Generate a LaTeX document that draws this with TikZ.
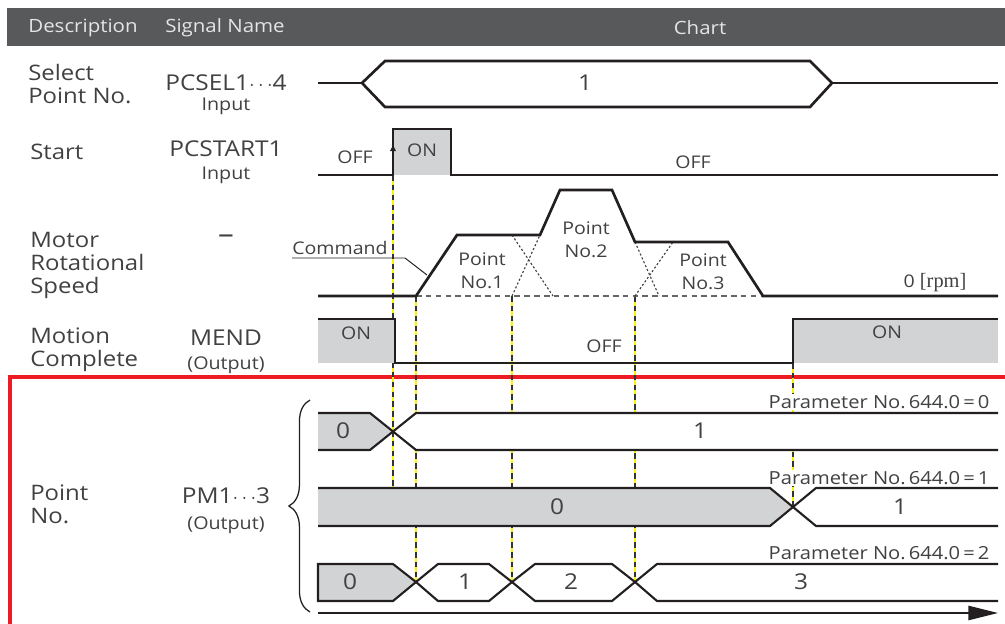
\documentclass[tikz,border=0pt]{standalone}
\usepackage{fontspec}
\setmainfont[FakeStretch=1.12]{Open Sans}
\newfontfamily\rpmfont{Liberation Serif}
\usetikzlibrary{arrows.meta, decorations.pathreplacing}

\definecolor{hdrgray}{RGB}{88,89,91}
\definecolor{ongray}{RGB}{209,211,212}
\definecolor{inkgray}{RGB}{35,31,32}
\definecolor{txtgray}{RGB}{65,64,66}
\definecolor{markred}{RGB}{237,28,36}
\definecolor{markyellow}{RGB}{255,242,0}

\begin{document}
\begin{tikzpicture}[
    x=0.025cm,
    y=-0.025cm,
    hdrtext/.style={
        text=white!90!black,
        inner sep=0pt,
        font=\fontsize{13}{15}\selectfont
    },
    rowlbl/.style={
        anchor=west,
        align=left,
        text=txtgray,
        inner sep=0pt,
        font=\fontsize{15.2}{16.4}\selectfont
    },
    signame/.style={
        text=txtgray,
        inner sep=0pt,
        font=\fontsize{15.5}{17}\selectfont
    },
    iolbl/.style={
        text=txtgray,
        inner sep=0pt,
        font=\fontsize{12.5}{14}\selectfont
    },
    chartlbl/.style={
        text=txtgray,
        align=center,
        inner sep=0pt,
        font=\fontsize{12.4}{16.4}\selectfont
    },
    buslbl/.style={
        text=txtgray,
        inner sep=0pt,
        font=\fontsize{15.5}{17}\selectfont
    },
    paramlbl/.style={
        anchor=east,
        text=txtgray,
        fill=white,
        inner sep=1pt,
        font=\fontsize{12.8}{15}\selectfont
    },
    sigline/.style={
        line width=1.9pt,
        inkgray
    },
    busline/.style={
        line width=1.5pt,
        inkgray
    },
    guide/.style={
        line width=1.1pt,
        markyellow
    },
    guidedash/.style={
        line width=1.1pt,
        black!80,
        dash pattern=on 4pt off 3pt
    },
    profdash/.style={
        line width=0.9pt,
        black!60,
        dash pattern=on 4pt off 3pt
    },
    profdot/.style={
        line width=0.8pt,
        black!75,
        dash pattern=on 1.5pt off 1.5pt
    }
]

    \useasboundingbox (0,0) rectangle (1005,624);

    % Header bar
    \fill[hdrgray] (7,8) rectangle (1005,46);
    \node[hdrtext] (hdrdesc) at (83,28) {Description};
    \node[hdrtext] (hdrsig) at (225,28) {Signal Name};
    \node[hdrtext] (hdrchart) at (700,28) {Chart};

    % Row descriptions
    \node[rowlbl] (lblsel) at (28,84) {Select\\Point No.};
    \node[rowlbl] (lblstart) at (30,152) {Start};
    \node[rowlbl] (lblspeed) at (30,265) {Motor\\Rotational\\Speed};
    \node[rowlbl] (lblmend) at (30,350) {Motion\\Complete};
    \node[rowlbl] (lblpoint) at (30,504) {Point\\No.};

    % Signal names
    \node[signame] (sigsel) at (226,83) {PCSEL1$\cdots$4};
    \node[iolbl] (sigselio) at (226,106) {Input};
    \node[signame] (sigstart) at (226,149) {PCSTART1};
    \node[iolbl] (sigstartio) at (226,175) {Input};
    \node[signame] (sigspeed) at (226,239) {{\fontsize{20}{20}\selectfont –}};
    \node[signame] (sigmend) at (226,338) {MEND};
    \node[iolbl] (sigmendio) at (226,365) {(Output)};
    \node[signame] (sigpm) at (226,496) {PM1$\cdots$3};
    \node[iolbl] (sigpmio) at (226,525) {(Output)};

    % Red frame round the point outputs
    \draw[markred, line width=2.2pt] (10,640) -- (10,377) -- (1020,377);

    % Timing guides
    \foreach \gx/\gtop/\gbot in {393/175/488, 416/296/582, 512/296/582, 635/296/582, 793/363/507} {
        \draw[guide] (\gx,\gtop) -- (\gx,\gbot);
        \draw[guidedash] (\gx,\gtop) -- (\gx,\gbot);
    }

    % Select point no.
    \filldraw[sigline, fill=white] (362,83) -- (385,61) -- (810,61) -- (832,83) -- (810,107) -- (385,107) -- cycle;
    \draw[sigline] (318,83) -- (362,83) (832,83) -- (998,83);
    \node[buslbl] (selval) at (585,83) {1};

    % Start
    \fill[ongray] (393,129) rectangle (451,175);
    \draw[sigline] (318,175) -- (393,175) -- (393,129) -- (451,129) -- (451,175) -- (998,175);
    \draw[line width=1pt, inkgray, -{Latex[length=5pt,width=4.5pt]}] (393,165) -- (393,144);
    \node[chartlbl] (startoff) at (355,157) {OFF};
    \node[chartlbl] (starton) at (422,150) {ON};
    \node[chartlbl] (startoff2) at (693,162) {OFF};

    % Motor rotational speed
    \draw[profdash] (416,296) -- (763,296);
    \draw[profdot] (512,235) -- (553,296);
    \draw[profdot] (512,296) -- (540,235);
    \draw[profdot] (635,242) -- (659,296);
    \draw[profdot] (635,296) -- (673,242);
    \draw[sigline] (318,296) -- (416,296) -- (457,235) -- (540,235) -- (560,190) -- (612,190)
        -- (635,242) -- (728,242) -- (763,296) -- (998,296);
    \node[chartlbl] (cmdlbl) at (340,248) {Command};
    \coordinate (cmdbend) at (405,258);
    \coordinate (cmdtip) at (427,275);
    \draw[line width=0.7pt, inkgray] (cmdlbl.south west |- cmdbend) -- (cmdbend) -- (cmdtip);
    \node[chartlbl] (pt1) at (482,271) {Point\\No.1};
    \node[chartlbl] (pt2) at (586,240) {Point\\No.2};
    \node[chartlbl] (pt3) at (703,272) {Point\\No.3};
    \node[chartlbl] (rpm) at (935,283) {0 {\rpmfont\fontsize{14.5}{16}\selectfont[rpm]}};

    % Motion complete
    \fill[ongray] (318,319) rectangle (395,363);
    \fill[ongray] (793,319) rectangle (998,363);
    \draw[sigline] (318,319) -- (395,319) -- (395,363) -- (793,363) -- (793,319) -- (998,319);
    \node[chartlbl] (mendon) at (356,333) {ON};
    \node[chartlbl] (mendoff) at (604,346) {OFF};
    \node[chartlbl] (mendon2) at (887,332) {ON};

    % Point no. output, parameter 644.0 = 0
    \fill[ongray] (318,413) -- (370,413) -- (393,431) -- (370,450) -- (318,450) -- cycle;
    \fill[white] (393,431) -- (416,413) -- (998,413) -- (998,450) -- (416,450) -- cycle;
    \draw[busline] (318,413) -- (370,413) -- (416,450) -- (998,450);
    \draw[busline] (318,450) -- (370,450) -- (416,413) -- (998,413);
    \node[buslbl] (pa0) at (343,431) {0};
    \node[buslbl] (pa1) at (700,431) {1};
    \node[paramlbl] (parama) at (991,402) {Parameter No.\,644.0\,=\,0};

    % parameter 644.0 = 1
    \fill[ongray] (318,488) -- (770,488) -- (793,507) -- (770,526) -- (318,526) -- cycle;
    \fill[white] (793,507) -- (816,488) -- (998,488) -- (998,526) -- (816,526) -- cycle;
    \draw[busline] (318,488) -- (770,488) -- (816,526) -- (998,526);
    \draw[busline] (318,526) -- (770,526) -- (816,488) -- (998,488);
    \node[buslbl] (pb0) at (557,507) {0};
    \node[buslbl] (pb1) at (900,507) {1};
    \node[paramlbl] (paramb) at (991,478) {Parameter No.\,644.0\,=\,1};

    % parameter 644.0 = 2
    \filldraw[busline, fill=ongray] (318,564) -- (393,564) -- (416,582) -- (393,601) -- (318,601) -- cycle;
    \filldraw[busline, fill=white] (416,582) -- (438,564) -- (489,564) -- (512,582) -- (489,601) -- (438,601) -- cycle;
    \filldraw[busline, fill=white] (512,582) -- (535,564) -- (612,564) -- (635,582) -- (612,601) -- (535,601) -- cycle;
    \fill[white] (635,582) -- (657,564) -- (998,564) -- (998,601) -- (657,601) -- cycle;
    \draw[busline] (998,564) -- (657,564) -- (635,582) -- (657,601) -- (998,601);
    \node[buslbl] (pc0) at (350,582) {0};
    \node[buslbl] (pc1) at (465,582) {1};
    \node[buslbl] (pc2) at (571,582) {2};
    \node[buslbl] (pc3) at (801,582) {3};
    \node[paramlbl] (paramc) at (991,553) {Parameter No.\,644.0\,=\,2};

    % Brace and time axis
    \draw[line width=0.9pt, inkgray, decorate, decoration={brace, amplitude=15pt}] (310,612) -- (310,400);
    \draw[busline, -{Triangle[length=21pt,width=10pt]}] (318,613) -- (998,613);

\end{tikzpicture}
\end{document}
